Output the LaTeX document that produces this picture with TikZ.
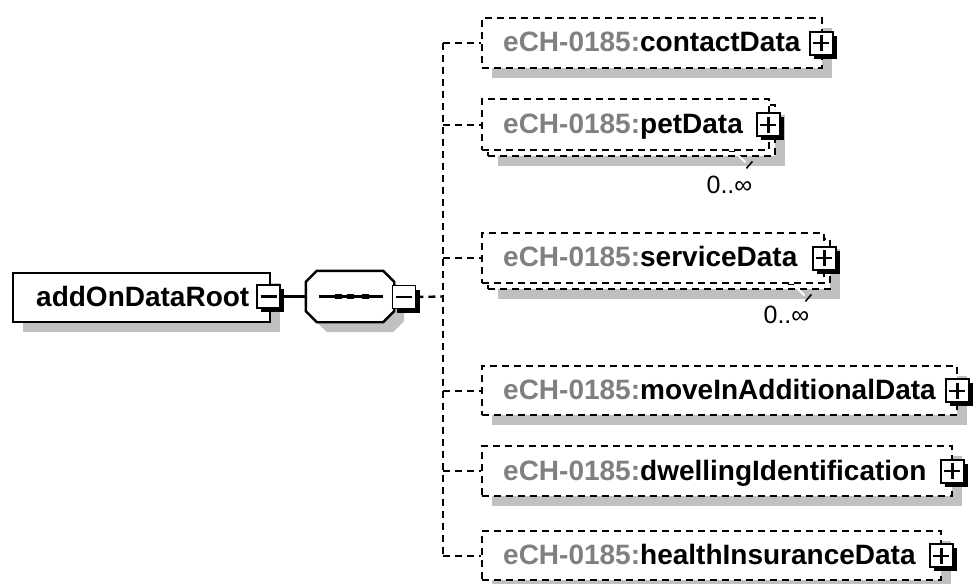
\documentclass[tikz,border=0pt]{standalone}
\usepackage{fontspec}
\setmainfont{Liberation Sans}
\usetikzlibrary{shadows}
\definecolor{shadowgray}{RGB}{192,192,192}
\definecolor{prefixgray}{RGB}{128,128,128}
\newcommand\echname[1]{{\color{prefixgray}eCH-0185:}#1}

\begin{document}
\begin{tikzpicture}[x=1pt,y=-1pt,line width=2.4pt,
  dashpat/.style={dash pattern=on 7pt off 5pt},
  boxshadow/.style={drop shadow={shadow xshift=10pt,shadow yshift=-10pt,
      fill=shadowgray,draw=none,opacity=1}},
  rootbox/.style={draw,solid,fill=white,rectangle,inner sep=0pt,
      minimum width=257pt,minimum height=49pt,anchor=north west,boxshadow},
  elembox/.style={draw,dashpat,fill=white,rectangle,inner sep=0pt,
      minimum height=50pt,anchor=north west},
  pm/.style={draw,solid,fill=white,rectangle,inner sep=0pt,line width=1.8pt,
      minimum size=23pt,
      drop shadow={shadow xshift=4pt,shadow yshift=-4pt,fill=black,draw=none,opacity=1}},
  minus/.style={pm,path picture={\draw[line width=2.2pt]
      (path picture bounding box.center) ++(-8pt,0pt) -- ++(16pt,0pt);}},
  plus/.style={pm,path picture={\draw[line width=2.2pt]
      (path picture bounding box.center) ++(-8pt,0pt) -- ++(16pt,0pt)
      (path picture bounding box.center) ++(0pt,-8pt) -- ++(0pt,16pt);}},
  nametext/.style={inner sep=0pt,anchor=base west,font=\fontsize{28}{32}\selectfont\bfseries},
  mult/.style={inner sep=0pt,font=\fontsize{25}{28}\selectfont},
  conn/.style={line width=2.4pt},
  tick/.style={line width=1.6pt}]
\useasboundingbox (0,0) rectangle (976,583);

% root element
\node[rootbox] (root) at (12,272) {};
\node[nametext] (roottext) at (35,306.5) {addOnDataRoot};
\node[minus] (rootpm) at (268.5,296.5) {};

% sequence compositor: an octagon with a shadow
\node[inner sep=0pt,minimum width=86pt,minimum height=49pt] (seq) at (350,296.5) {};
\def\octagon{([xshift=11pt]seq.north west) -- ([xshift=-11pt]seq.north east)
  -- ([yshift=-11pt]seq.north east) -- ([yshift=11pt]seq.south east)
  -- ([xshift=-11pt]seq.south east) -- ([xshift=11pt]seq.south west)
  -- ([yshift=11pt]seq.south west) -- ([yshift=-11pt]seq.north west) -- cycle}
\fill[shadowgray,transform canvas={shift={(10pt,-10pt)}}] \octagon;
\draw[fill=white] \octagon;
\draw[conn] ([xshift=13pt]seq.west) -- ([xshift=-11pt]seq.east);
\foreach \dx in {-12,0,15}
  \fill ([xshift=\dx pt-3.5pt,yshift=2.5pt]seq.center) rectangle ++(7pt,-5pt);
\node[minus] (seqpm) at (404,297) {};
\draw[conn] (rootpm.east) -- (seq.west);

% child elements
\node[elembox,boxshadow,minimum width=340pt] (contact) at (481,17) {};
\node[nametext] at (502,52) {\echname{contactData}};

\node[elembox,boxshadow,minimum width=287pt,minimum height=51pt] (petback) at (487,104) {};
\node[elembox,minimum width=287pt,minimum height=51pt] (pet) at (481,98) {};
\node[nametext] at (502,133.5) {\echname{petData}};

\node[elembox,boxshadow,minimum width=342pt] (serviceback) at (487,238) {};
\node[elembox,minimum width=342pt] (service) at (481,232) {};
\node[nametext] at (502,266) {\echname{serviceData}};

\node[elembox,boxshadow,minimum width=475pt,minimum height=49pt] (movein) at (481,365) {};
\node[nametext] at (502,399) {\echname{moveInAdditionalData}};

\node[elembox,boxshadow,minimum width=470pt] (dwelling) at (481,445) {};
\node[nametext] at (502,480) {\echname{dwellingIdentification}};

\node[elembox,boxshadow,minimum width=459pt,minimum height=49pt] (health) at (481,530) {};
\node[nametext] at (502,564.5) {\echname{healthInsuranceData}};

% expand buttons
\node[plus] (contactpm) at ([xshift=-2pt]contact.east) {};
\node[plus] (petpm) at ([xshift=-2pt]pet.east) {};
\node[plus] (servicepm) at ([xshift=-1pt]service.east) {};
\node[plus] (moveinpm) at ([xshift=-1pt]movein.east) {};
\node[plus] (dwellingpm) at ([xshift=-1pt]dwelling.east) {};
\node[plus] (healthpm) at ([xshift=-1pt]health.east) {};

% occurrence marks
\draw[tick] ([shift={(-47,-6)}]petback.south east) -- ++(6,0);
\draw[white,line width=2pt] ([shift={(-41,-5)}]petback.south east) -- ++(10,10);
\draw[tick] ([shift={(-30,11)}]petback.south east) -- ++(6,-7);
\node[mult] (petmult) at ([shift={(-47,27)}]petback.south east) {0..∞};
\draw[tick] ([shift={(-43,-6)}]serviceback.south east) -- ++(6,0);
\draw[white,line width=2pt] ([shift={(-37,-5)}]serviceback.south east) -- ++(10,10);
\draw[tick] ([shift={(-26,11)}]serviceback.south east) -- ++(6,-7);
\node[mult] (servicemult) at ([shift={(-45,24)}]serviceback.south east) {0..∞};

% connectors
\coordinate (bus) at (443,296.5);
\draw[conn,dashpat] (seqpm.east) -- (bus);
\draw[conn,dashpat] (bus |- contact.west) -- (bus |- health.west);
\foreach \n in {contact,pet,service,movein,dwelling,health}
  \draw[conn,dashpat] (bus |- \n.west) -- (\n.west);
\end{tikzpicture}
\end{document}
